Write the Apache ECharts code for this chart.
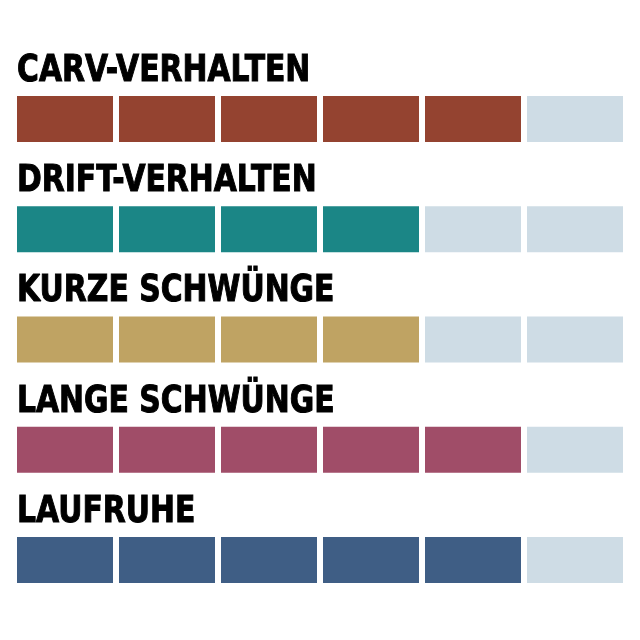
<!DOCTYPE html>
<html>
<head>
<meta charset="utf-8">
<script src="https://cdn.jsdelivr.net/npm/echarts@6/dist/echarts.min.js"></script>
<style>html,body{margin:0;padding:0;background:#fff}#c{width:640px;height:640px}</style>
</head>
<body>
<div id="c"></div>
<script>
const categories = ['CARV-VERHALTEN', 'DRIFT-VERHALTEN', 'KURZE SCHWÜNGE', 'LANGE SCHWÜNGE', 'LAUFRUHE'];
const ratings = [5, 4, 4, 5, 5];
const maxRating = 6;
const colors = ['#944330', '#1B8686', '#BFA363', '#A04D68', '#3F5E85'];
const emptyColor = '#CEDCE5';

const chart = echarts.init(document.getElementById('c'), null, {renderer: 'canvas'});

const data = categories.map((c, i) => [i, ratings[i]]);

chart.setOption({
  animation: false,
  grid: {left: 14, right: 14, top: 64, bottom: 25},
  xAxis: {type: 'value', min: 0, max: maxRating, show: false},
  yAxis: {type: 'category', data: categories, inverse: true, show: false},
  series: [{
    type: 'custom',
    data: data,
    encode: {y: 0},
    renderItem: function (params, api) {
      const ci = api.value(0);
      const r = api.value(1);
      const barH = 46;
      const gap = 6;
      const children = [];
      const centerY = api.coord([0, ci])[1];
      for (let s = 0; s < maxRating; s++) {
        const x0 = api.coord([s, ci])[0];
        const x1 = api.coord([s + 1, ci])[0];
        children.push({
          type: 'rect',
          shape: {x: x0 + gap / 2, y: centerY - barH / 2, width: x1 - x0 - gap, height: barH},
          style: {fill: s < r ? colors[ci] : emptyColor}
        });
      }
      const tx = api.coord([0, ci])[0] + gap / 2;
      children.push({
        type: 'text',
        x: tx,
        y: centerY - barH / 2 - 25,
        scaleX: 0.785,
        style: {
          x: 0, y: 0,
          text: categories[ci],
          fill: '#000',
          font: 'bold 38px "DejaVu Sans"',
          align: 'left', verticalAlign: 'middle',
          stroke: '#000', lineWidth: 1.1
        }
      });
      return {type: 'group', children: children};
    }
  }]
});
</script>
</body>
</html>
